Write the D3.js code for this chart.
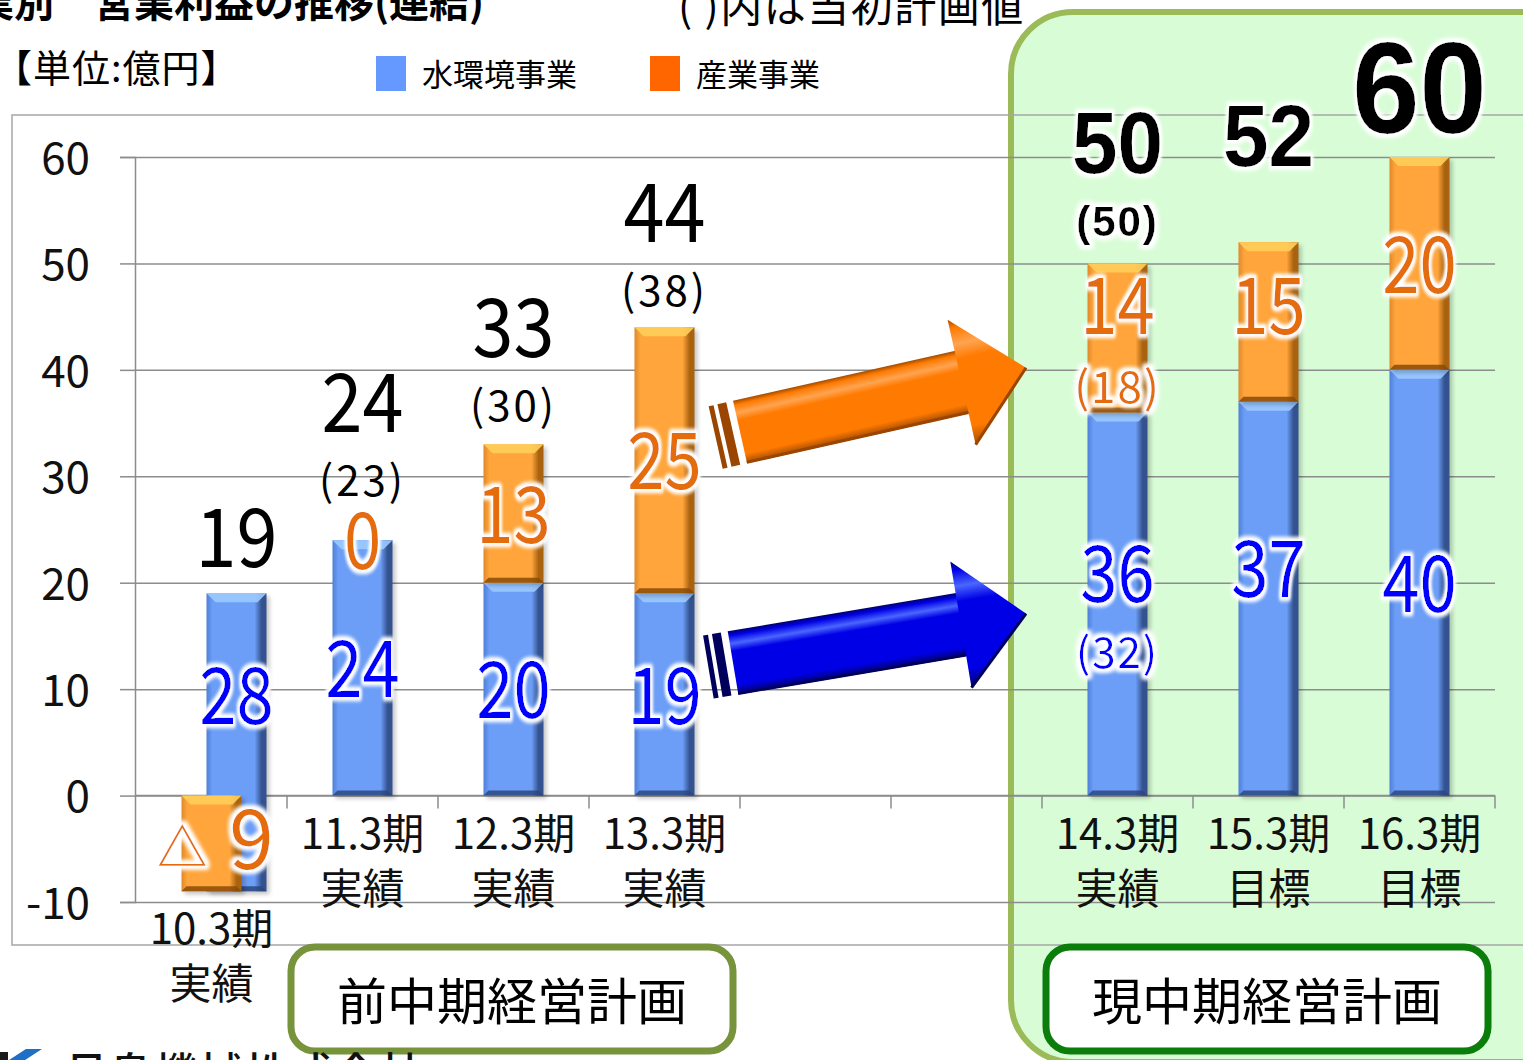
<!DOCTYPE html>
<html>
<head>
<meta charset="utf-8">
<script src="https://cdn.jsdelivr.net/npm/d3@7"></script>
<style>
  html, body { margin: 0; padding: 0; background: #fff; overflow: hidden; }
  svg { display: block; }
</style>
</head>
<body>
<svg id="chart" width="1523" height="1060"></svg>
<script>
// ---- data (億円) ----
const periods        = ["10.3期", "11.3期", "12.3期", "13.3期", "", "", "14.3期", "15.3期", "16.3期"];
const stages         = ["実績", "実績", "実績", "実績", "", "", "実績", "目標", "目標"];
const waterValues    = [28, 24, 20, 19, null, null, 36, 37, 40];   // 水環境事業
const industryValues = [-9, 0, 13, 25, null, null, 14, 15, 20];    // 産業事業
const totalValues    = [19, 24, 33, 44, null, null, 50, 52, 60];
const planTotals     = [null, 23, 30, 38, null, null, 50, null, null]; // 当初計画値
const planWater      = [null, null, null, null, null, null, 32, null, null];
const planIndustry   = [null, null, null, null, null, null, 18, null, null];
const yTicks         = [-10, 0, 10, 20, 30, 40, 50, 60];
const seriesNames    = ["水環境事業", "産業事業"];
const prevPlanRange  = [1, 3];   // 前中期経営計画
const currPlanRange  = [6, 8];   // 現中期経営計画

// ---- setup ----
const JP = "'Noto Sans CJK JP', 'Noto Sans', sans-serif";
const BOLD = "'Liberation Sans', Arial, sans-serif";
const JP_DY = "-0.06em";   // optical centring for the CJK font metrics
const svg = d3.select("#chart");
const defs = svg.append("defs");

const idx = d3.range(periods.length);
const x = d3.scaleBand().domain(idx).range([136, 1495]).padding(0);
const y = d3.scaleLinear().domain([-10, 60]).range([902, 157]);
const BAR_W = 60;
const bandC = i => x(i) + x.bandwidth() / 2;

const colors = {
  water:    { main: "#6c9ef7", light: "#9ccaff", edgeL: "#4f7fd8", edgeR: "#33528f", bottom: "#2c4680" },
  industry: { main: "#ffa53b", light: "#ffcf5a", edgeL: "#e0892a", edgeR: "#a9620f", bottom: "#8a4a08" }
};
const labelBlue = "#0000ff";
const labelOrange = "#e46c0a";

// gradients for bar sides
function barGradient(id, c) {
  const g = defs.append("linearGradient").attr("id", id).attr("x1", 0).attr("x2", 1).attr("y1", 0).attr("y2", 0);
  [[0, c.edgeL], [0.1, c.main], [0.8, c.main], [0.92, c.edgeR], [1, c.edgeR]]
    .forEach(([o, col]) => g.append("stop").attr("offset", o).attr("stop-color", col));
}
barGradient("gWater", colors.water);
barGradient("gIndustry", colors.industry);

// soft white halo behind labels
const glow = defs.append("filter").attr("id", "glow").attr("x", "-30%").attr("y", "-30%").attr("width", "160%").attr("height", "160%");
glow.append("feMorphology").attr("in", "SourceAlpha").attr("operator", "dilate").attr("radius", 2.5).attr("result", "d");
glow.append("feGaussianBlur").attr("in", "d").attr("stdDeviation", 2).attr("result", "b");
glow.append("feFlood").attr("flood-color", "#ffffff");
glow.append("feComposite").attr("in2", "b").attr("operator", "in").attr("result", "g");
const gm = glow.append("feMerge");
gm.append("feMergeNode").attr("in", "g");
gm.append("feMergeNode").attr("in", "g");
gm.append("feMergeNode").attr("in", "SourceGraphic");

const shadow = defs.append("filter").attr("id", "shadow").attr("x", "-20%").attr("y", "-20%").attr("width", "140%").attr("height", "140%");
shadow.append("feGaussianBlur").attr("stdDeviation", 2);

// ---- current-plan panel ----
svg.append("rect")
  .attr("x", x(currPlanRange[0]) - 31).attr("y", 12)
  .attr("width", 620).attr("height", 1050).attr("rx", 62)
  .attr("fill", "#d8fdd6").attr("stroke", "#9bbb59").attr("stroke-width", 6);

// plot area frame
svg.append("rect")
  .attr("x", 12).attr("y", 115).attr("width", 1600).attr("height", 830)
  .attr("fill", "none").attr("stroke", "#a6a6a6").attr("stroke-width", 1.5);

// ---- grid & axes ----
const grid = svg.append("g").attr("transform", "translate(135,0)")
  .call(d3.axisLeft(y).tickValues(yTicks).tickSize(-(1495 - 135)).tickFormat(""));
grid.select(".domain").remove();
grid.selectAll("line").attr("stroke", "#8c8c8c").attr("stroke-width", 1.5);

const yAxis = svg.append("g").attr("transform", "translate(135,0)")
  .call(d3.axisLeft(y).tickValues(yTicks).tickSize(15).tickPadding(30).tickFormat(d => String(d)));
yAxis.select(".domain").attr("stroke", "#8c8c8c").attr("stroke-width", 1.5);
yAxis.selectAll(".tick line").attr("stroke", "#8c8c8c").attr("stroke-width", 1.5);
yAxis.selectAll("text").attr("font-family", JP).attr("font-size", 44).attr("fill", "#111")
  .attr("dy", JP_DY).attr("dominant-baseline", "central");

// category axis along zero
svg.append("line").attr("x1", 135).attr("x2", 1495).attr("y1", y(0)).attr("y2", y(0))
  .attr("stroke", "#8c8c8c").attr("stroke-width", 1.5);
svg.append("g").selectAll("line").data(idx.map(i => x(i) + x.bandwidth())).join("line")
  .attr("x1", d => d).attr("x2", d => d).attr("y1", y(0)).attr("y2", y(0) + 13)
  .attr("stroke", "#8c8c8c").attr("stroke-width", 1.5);

// ---- stacked bars ----
const segs = [];
idx.forEach(i => {
  const w = waterValues[i], o = industryValues[i];
  if (w == null) return;
  const neg = o < 0;
  const shift = neg ? 25 : 0;           // loss year: water bar offset beside the negative bar
  const base = neg ? o : 0;
  segs.push({ i, key: "water", v0: base, v1: base + w, cx: bandC(i) + shift });
  if (o !== 0) segs.push({ i, key: "industry", v0: neg ? o : w, v1: neg ? 0 : w + o, cx: bandC(i) });
});

const barsG = svg.append("g");
segs.forEach(s => {
  const c = colors[s.key];
  const x0 = s.cx - BAR_W / 2, x1 = s.cx + BAR_W / 2;
  const top = y(s.v1), bot = y(s.v0);
  const g = barsG.append("g");
  g.append("rect").attr("x", x0 + 3).attr("y", top + 3).attr("width", BAR_W).attr("height", bot - top)
    .attr("fill", "#000").attr("opacity", 0.22).attr("filter", "url(#shadow)");
  g.append("rect").attr("x", x0).attr("y", top).attr("width", BAR_W).attr("height", bot - top)
    .attr("fill", s.key === "water" ? "url(#gWater)" : "url(#gIndustry)");
  const bev = Math.min(9, (bot - top) / 3);
  g.append("polygon")
    .attr("points", [[x0, top], [x1, top], [x1 - bev, top + bev], [x0 + bev, top + bev]].join(" "))
    .attr("fill", c.light).attr("opacity", 0.9);
  const bb = Math.min(5, (bot - top) / 4);
  g.append("polygon")
    .attr("points", [[x0, bot], [x1, bot], [x1 - bb, bot - bb], [x0 + bb, bot - bb]].join(" "))
    .attr("fill", c.bottom).attr("opacity", 0.85);
});

// ---- arrows towards the current plan ----
function arrowGradient(id, dark, main, light) {
  const g = defs.append("linearGradient").attr("id", id).attr("x1", 0).attr("x2", 0).attr("y1", 0).attr("y2", 1);
  [[0, dark], [0.07, main], [0.2, light], [0.32, main], [0.85, main], [1, dark]]
    .forEach(([o, col]) => g.append("stop").attr("offset", o).attr("stop-color", col));
}
arrowGradient("aOrange", "#a34c00", "#ff7a00", "#ffa451");
arrowGradient("aBlue", "#00006a", "#0000e6", "#4a66ff");

function drawArrow(from, to, gradId, dark) {
  const dx = to[0] - from[0], dy = to[1] - from[1];
  const L = Math.hypot(dx, dy), ang = Math.atan2(dy, dx) * 180 / Math.PI;
  const hw = 32, HW = 64, hl = 66;
  const a = svg.append("g").attr("transform", `translate(${from[0]},${from[1]}) rotate(${ang})`);
  [[-27, -22], [-18, -9]].forEach(([s, e]) =>
    a.append("rect").attr("x", s).attr("y", -hw).attr("width", e - s).attr("height", 2 * hw).attr("fill", dark));
  a.append("rect").attr("x", -2).attr("y", -hw).attr("width", L - hl + 4).attr("height", 2 * hw)
    .attr("fill", `url(#${gradId})`);
  a.append("path").attr("d", `M${L - hl},${-HW}L${L},0L${L - hl},${HW}Z`)
    .attr("fill", `url(#${gradId})`);
  a.append("path").attr("d", `M${L - hl},${HW}L${L},0`).attr("stroke", dark).attr("stroke-width", 3).attr("fill", "none");
  a.append("line").attr("x1", -2).attr("x2", L - hl).attr("y1", hw - 1).attr("y2", hw - 1)
    .attr("stroke", dark).attr("stroke-width", 3);
}
const tailX = x(3) + x.bandwidth();
const tipX = x(currPlanRange[0]) - 16;
drawArrow([tailX + 2, y(34.2)], [tipX, y(40.2)], "aOrange", "#9a4500");
drawArrow([tailX - 5, y(12.5)], [tipX, y(17.1)], "aBlue", "#00005c");

// ---- labels ----
function label(p) {
  const fam = p.family || JP;
  const t = svg.append("text")
    .attr("transform", `translate(${p.x},${p.y}) scale(${p.sx || 1},1)`)
    .attr("text-anchor", p.anchor || "middle")
    .attr("dominant-baseline", "central")
    .attr("dy", fam === JP ? JP_DY : null)
    .attr("font-family", fam)
    .attr("font-size", p.size)
    .attr("font-weight", p.weight || 400)
    .attr("fill", p.fill || "#000")
    .attr("letter-spacing", p.ls || 0)
    .text(p.text);
  if (p.glow) t.attr("filter", "url(#glow)");
  return t;
}

const inCurr = i => i >= currPlanRange[0] && i <= currPlanRange[1];
const blueNudge = { 6: -31, 7: -31 };
const orangeNudge = { 6: -33, 7: -17 };
const planLift = { 1: 60, 2: 39, 3: 37, 6: 42 };
const totalLift = { 0: 57, 7: 107, 8: 69 };

idx.forEach(i => {
  const w = waterValues[i], o = industryValues[i];
  if (w == null) return;
  const neg = o < 0;
  const waterX = bandC(i) + (neg ? 25 : 0);

  // water segment value
  const wy = y(neg ? (o + w) / 2 : w / 2) + (blueNudge[i] || 0);
  label({ x: waterX, y: wy, text: w, size: 78, sx: 0.86, fill: labelBlue, glow: true });
  if (planWater[i] != null)
    label({ x: bandC(i), y: wy + 79, text: `(${planWater[i]})`, size: 42, fill: labelBlue, glow: true, ls: 2 });

  // industry segment value
  if (neg) {
    const t = svg.append("text")
      .attr("x", bandC(i) + 4).attr("y", y(o / 2) + 26)
      .attr("text-anchor", "middle").attr("font-family", JP).attr("fill", labelOrange)
      .attr("filter", "url(#glow)");
    t.append("tspan").attr("font-size", 50).attr("dy", -3).text("△");
    t.append("tspan").attr("font-size", 80).attr("dx", 22).attr("dy", 3).text(Math.abs(o));
  } else {
    const oy = y(w + o / 2) + (orangeNudge[i] || 0);
    label({ x: bandC(i), y: oy, text: o, size: 78, sx: 0.86, fill: labelOrange, glow: true });
    if (planIndustry[i] != null)
      label({ x: bandC(i), y: oy + 82, text: `(${planIndustry[i]})`, size: 44, fill: labelOrange, glow: true, ls: 2 });
  }

  // total and original plan
  const topY = y(totalValues[i]);
  let planY = null;
  if (planTotals[i] != null) {
    planY = topY - planLift[i];
    if (inCurr(i))
      label({ x: bandC(i), y: planY, text: `(${planTotals[i]})`, size: 42, family: BOLD, weight: 700, glow: true, ls: 2 });
    else
      label({ x: bandC(i), y: planY, text: `(${planTotals[i]})`, size: 42, ls: 3 });
  }
  const ty = planY != null ? planY - 79 : topY - totalLift[i];
  if (inCurr(i)) {
    const big = i === currPlanRange[1];
    label({ x: waterX, y: ty, text: totalValues[i], size: big ? 130 : 88, sx: 0.93, family: BOLD, weight: 700, glow: true });
  } else {
    label({ x: waterX, y: ty, text: totalValues[i], size: 82, sx: 0.9 });
  }
});

// category labels
idx.forEach(i => {
  if (!periods[i]) return;
  const low = Math.min(0, industryValues[i] ?? 0);
  const y1 = y(low) + 37;
  label({ x: bandC(i), y: y1, text: periods[i], size: 42, fill: "#111" });
  label({ x: bandC(i), y: y1 + 55, text: stages[i], size: 42, fill: "#111" });
});

// plan-period boxes
function planBox(range, text, stroke) {
  const bx0 = x(range[0]) + 4, bx1 = x(range[1]) + x.bandwidth() - 7;
  svg.append("rect").attr("x", bx0).attr("y", 947).attr("width", bx1 - bx0).attr("height", 104)
    .attr("rx", 24).attr("fill", "#fff").attr("stroke", stroke).attr("stroke-width", 7);
  label({ x: (bx0 + bx1) / 2, y: 1001, text, size: 50, fill: "#000" });
}
planBox(prevPlanRange, "前中期経営計画", "#77933c");
planBox(currPlanRange, "現中期経営計画", "#0b7d0b");

// ---- header ----
label({ x: -66, y: 2, text: "事業別　営業利益の推移(連結)", size: 40, weight: 700, anchor: "start" });
label({ x: 678, y: 6, text: "( )内は当初計画値", size: 42, anchor: "start", ls: 1.5 });
label({ x: -6, y: 68, text: "【単位:億円】", size: 38, anchor: "start", ls: 1 });

// legend
const legendX = [376, 650];
seriesNames.forEach((name, k) => {
  svg.append("rect").attr("x", legendX[k]).attr("y", 56).attr("width", 30).attr("height", 35)
    .attr("fill", k === 0 ? "#6699ff" : "#ff6600");
  label({ x: legendX[k] + 46, y: 74, text: name, size: 31, anchor: "start" });
});

// footer company line
svg.append("polygon").attr("points", "6,1062 26,1049 42,1049 22,1062").attr("fill", "#1f6fc6");
svg.append("polygon").attr("points", "0,1052 8,1052 8,1062 0,1062").attr("fill", "#1a1a1a");
svg.append("text").attr("x", 64).attr("y", 1090).attr("font-family", JP).attr("font-size", 44)
  .attr("font-weight", 500).attr("letter-spacing", 1).attr("fill", "#111").text("月島機械株式会社");
</script>
</body>
</html>
